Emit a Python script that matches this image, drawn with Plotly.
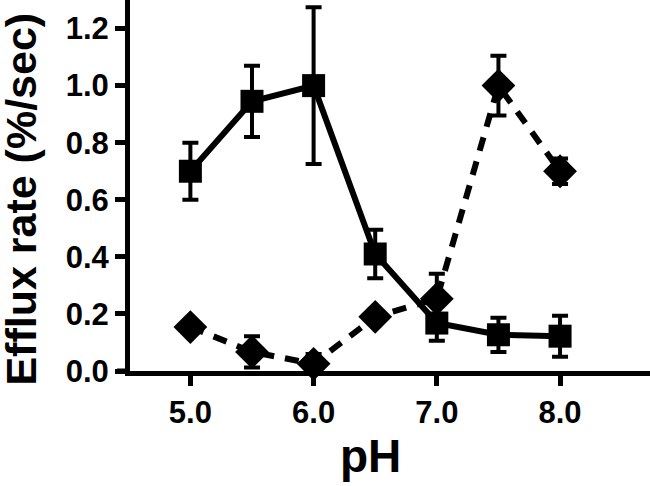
import plotly.graph_objects as go

ph = [5.0, 5.5, 6.0, 6.5, 7.0, 7.5, 8.0]
square_vals = [0.70, 0.945, 1.0, 0.41, 0.168, 0.127, 0.122]
square_err = [0.10, 0.125, 0.275, 0.085, 0.062, 0.06, 0.072]
diamond_vals = [0.154, 0.067, 0.025, 0.19, 0.253, 1.0, 0.70]
diamond_err = [0.012, 0.055, 0.035, 0.015, 0.088, 0.105, 0.045]

y_ticks = [0.0, 0.2, 0.4, 0.6, 0.8, 1.0, 1.2]
x_ticks = [5.0, 6.0, 7.0, 8.0]

fig = go.Figure()

fig.add_trace(go.Scatter(
    x=ph, y=square_vals, mode="lines+markers",
    line=dict(color="black", width=6),
    marker=dict(symbol="square", size=23, color="black"),
    error_y=dict(type="data", array=square_err, color="black", thickness=4, width=8),
    showlegend=False, cliponaxis=False,
))
fig.add_trace(go.Scatter(
    x=ph, y=diamond_vals, mode="lines+markers",
    line=dict(color="black", width=6, dash="14px,11px"),
    marker=dict(symbol="diamond", size=26, color="black"),
    error_y=dict(type="data", array=diamond_err, color="black", thickness=4, width=8),
    showlegend=False, cliponaxis=False,
))

tickfont = dict(family="Liberation Sans, Arial", size=31, color="black", weight="bold")

fig.update_layout(
    width=650, height=486,
    margin=dict(l=130, r=0, t=0, b=115, pad=0, autoexpand=False),
    plot_bgcolor="white", paper_bgcolor="white",
    xaxis=dict(
        range=[4.51, 8.73], tickvals=x_ticks, ticktext=[f"{v:.1f}" for v in x_ticks],
        ticks="outside", ticklen=10, tickwidth=5, tickcolor="black",
        showline=True, linewidth=5, linecolor="black", automargin=False,
        showgrid=False, zeroline=False, tickfont=tickfont,
    ),
    yaxis=dict(
        range=[0, 1.3], tickvals=y_ticks, ticktext=[f"{v:.1f}" for v in y_ticks],
        ticks="outside", ticklen=10, tickwidth=5, tickcolor="black",
        showline=True, linewidth=5, linecolor="black", automargin=False,
        showgrid=False, zeroline=False, tickfont=tickfont,
    ),
    annotations=[
        dict(text="pH", xref="x", yref="paper", x=6.46, y=-0.228,
             xanchor="center", yanchor="middle", showarrow=False,
             font=dict(family="Liberation Sans, Arial", size=46, color="black", weight="bold")),
        dict(text="Efflux rate (%/sec)", xref="paper", yref="paper",
             x=(21 - 130) / 520, y=0.462, textangle=-90,
             xanchor="center", yanchor="middle", showarrow=False,
             font=dict(family="Liberation Sans, Arial", size=43, color="black", weight="bold")),
    ],
    shapes=[
        dict(type="line", xref="paper", yref="paper", x0=(117 - 130) / 520, x1=0,
             y0=0, y1=0, line=dict(color="black", width=5), layer="above"),
    ],
)

fig.write_html("out.html", config={"displayModeBar": False},
               post_script="document.body.style.margin='0';")
